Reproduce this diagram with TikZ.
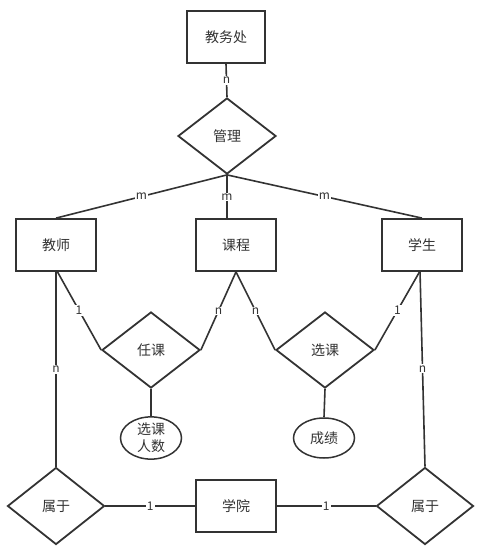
\documentclass[tikz,border=0pt]{standalone}
\usepackage{fontspec}
\setmainfont{Noto Sans CJK SC}
\usetikzlibrary{shapes.geometric}
\definecolor{ink}{HTML}{333333}
\begin{document}
\begin{tikzpicture}[x=1pt,y=-1pt,
  every node/.style={text=ink,font=\fontsize{14}{16}\selectfont},
  ent/.style={draw=ink,line width=1.8pt,rectangle,minimum width=80pt,minimum height=52pt,inner sep=0pt},
  rel/.style={draw=ink,line width=1.8pt,diamond,minimum width=98pt,minimum height=76pt,inner sep=0pt},
  attr/.style={draw=ink,line width=1.5pt,ellipse,minimum width=61pt,minimum height=40pt,inner sep=0pt,align=center},
  link/.style={draw=ink,line width=1.6pt},
  card/.style={fill=white,inner sep=1pt,font=\fontsize{12}{12}\selectfont}]
\useasboundingbox (0,0) rectangle (488,554);
\node[ent,minimum width=78pt] (office) at (226,37) {教务处};
\node[rel] (manage) at (227,136) {管理};
\node[ent] (teacher) at (56,245) {教师};
\node[ent] (course) at (236,245) {课程};
\node[ent] (student) at (422,245) {学生};
\node[rel] (renke) at (151,350) {任课};
\node[rel] (xuanke) at (325,350) {选课};
\node[attr,font=\fontsize{14}{17}\selectfont] (attr1) at (151,438) {选课\\人数};
\node[attr] (attr2) at (324,438) {成绩};
\node[rel,minimum width=97pt,minimum height=77pt] (belong1) at (56,506) {属于};
\node[ent] (college) at (236,506) {学院};
\node[rel,minimum width=97pt,minimum height=77pt] (belong2) at (425,506) {属于};
\coordinate (tb) at (57,271);
\coordinate (sb) at (420,271);
\coordinate (ct) at (227,219);
\draw[link] (office.south) -- node[card] {n} (manage.north);
\draw[link] (manage.south) -- node[card] {m} (teacher.north);
\draw[link] (manage.south) -- node[card] {m} (ct);
\draw[link] (manage.south) -- node[card] {m} (student.north);
\draw[link] (tb) -- node[card] {1} (renke.west);
\draw[link] (teacher.south) -- node[card] {n} (belong1.north);
\draw[link] (course.south) -- node[card] {n} (renke.east);
\draw[link] (course.south) -- node[card] {n} (xuanke.west);
\draw[link] (sb) -- node[card] {1} (xuanke.east);
\draw[link] (sb) -- node[card] {n} (belong2.north);
\draw[link] (renke.south) -- (attr1.north);
\draw[link] (xuanke.south) -- (attr2.north);
\draw[link] (belong1.east) -- node[card] {1} (college.west);
\draw[link] (college.east) -- node[card] {1} (belong2.west);
\end{tikzpicture}
\end{document}
